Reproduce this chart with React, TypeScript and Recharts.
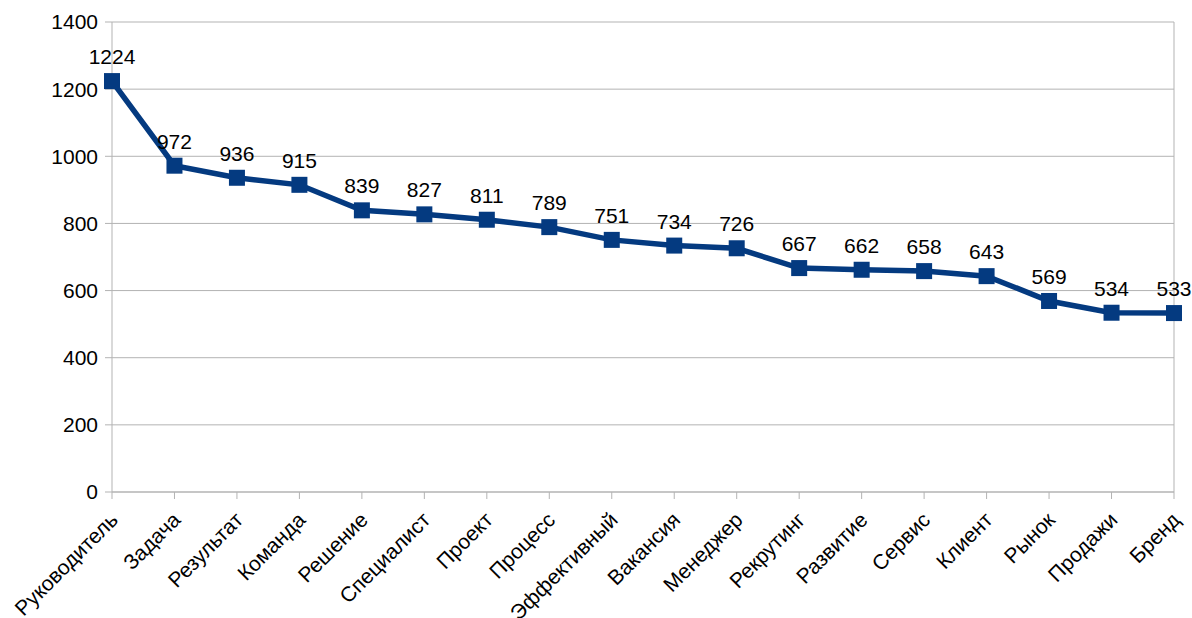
import React from "react";
import {
  LineChart,
  Line,
  XAxis,
  YAxis,
  CartesianGrid,
  ReferenceLine,
  LabelList,
} from "recharts";

const categories = [
  "Руководитель",
  "Задача",
  "Результат",
  "Команда",
  "Решение",
  "Специалист",
  "Проект",
  "Процесс",
  "Эффективный",
  "Вакансия",
  "Менеджер",
  "Рекрутинг",
  "Развитие",
  "Сервис",
  "Клиент",
  "Рынок",
  "Продажи",
  "Бренд",
];

const counts = [
  1224, 972, 936, 915, 839, 827, 811, 789, 751, 734, 726, 667, 662, 658, 643,
  569, 534, 533,
];

const yTicks = [0, 200, 400, 600, 800, 1000, 1200, 1400];

const data = categories.map((name, i) => ({ name, value: counts[i] }));

const FONT = "'Liberation Sans', Arial, sans-serif";
const GRID = "#b3b3b3";
const BLUE = "#043a80";
const FS = 21;

const SlantTick = (props: any) => {
  const { x, y, payload } = props;
  const ax = x + 2;
  const ay = y + 15;
  return (
    <text
      x={ax}
      y={ay}
      transform={`rotate(-45, ${ax}, ${ay})`}
      textAnchor="end"
      dy="0.355em"
      fontSize={FS}
      fontFamily={FONT}
      fill="#000"
    >
      {payload.value}
    </text>
  );
};

const SquareDot = (props: any) => {
  const { cx, cy, index } = props;
  if (cx == null || cy == null) return null;
  return <rect key={index} x={cx - 8} y={cy - 8} width={16} height={16} fill={BLUE} />;
};

export default function App() {
  return (
    <div style={{ position: "absolute", left: 0, top: 0, background: "#fff" }}>
      <LineChart
        width={1192}
        height={618}
        data={data}
        margin={{ top: 22, right: 18, bottom: 0, left: 0 }}
      >
        <CartesianGrid vertical={false} stroke={GRID} strokeWidth={1} />
        <XAxis
          dataKey="name"
          interval={0}
          height={126}
          tickSize={7}
          tickLine={{ stroke: GRID }}
          axisLine={{ stroke: GRID }}
          tick={<SlantTick />}
        />
        <YAxis
          domain={[0, 1400]}
          ticks={yTicks}
          width={112}
          tickSize={7}
          tickMargin={7}
          tickLine={{ stroke: GRID }}
          axisLine={{ stroke: GRID }}
          tick={{ fontSize: FS, fontFamily: FONT, fill: "#000" }}
        />
        <ReferenceLine x={categories[categories.length - 1]} stroke={GRID} />
        <Line
          type="linear"
          dataKey="value"
          stroke={BLUE}
          strokeWidth={5.5}
          dot={<SquareDot />}
          activeDot={false}
          isAnimationActive={false}
        >
          <LabelList
            dataKey="value"
            position="top"
            offset={17}
            fontSize={FS}
            fontFamily={FONT}
            fill="#000"
          />
        </Line>
      </LineChart>
    </div>
  );
}
